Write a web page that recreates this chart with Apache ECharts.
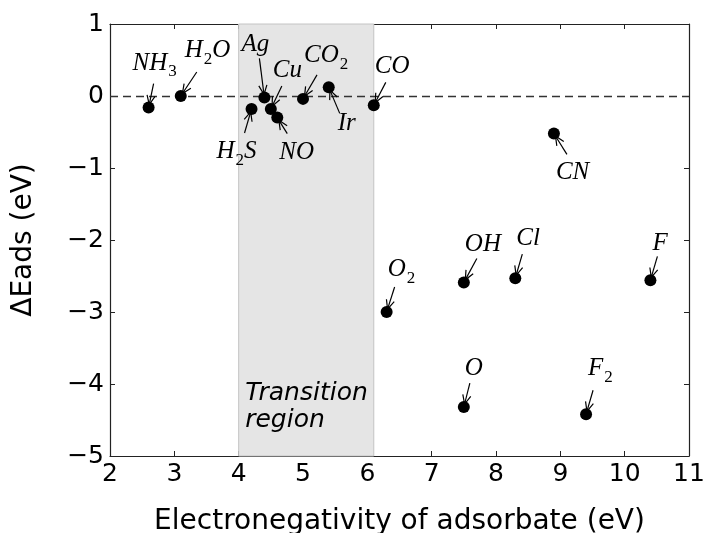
<!DOCTYPE html>
<html>
<head>
<meta charset="utf-8">
<script src="https://cdn.jsdelivr.net/npm/echarts@6/dist/echarts.min.js"></script>
<style>
  html, body { margin: 0; padding: 0; background: #fff; }
  #chart { width: 704px; height: 533px; }
</style>
</head>
<body>
<div id="chart"></div>
<script>
// adsorbate data
var species = ['NH3', 'H2O', 'Ag', 'Cu', 'CO2', 'Ir', 'H2S', 'NO', 'CO', 'CN', 'O2', 'OH', 'Cl', 'F', 'O', 'F2'];
var electroneg = [2.6, 3.1, 4.4, 4.5, 5.0, 5.4, 4.2, 4.6, 6.1, 8.9, 6.3, 7.5, 8.3, 10.4, 7.5, 9.4];
var dEads = [-0.16, 0, -0.02, -0.18, -0.04, 0.12, -0.18, -0.30, -0.13, -0.52, -3.0, -2.59, -2.53, -2.56, -4.32, -4.42];
var transitionRange = [4, 6.1];
var xRange = [2, 11];
var yRange = [-5, 1];

// annotation placement, pixels relative to the point: text baseline-left and arrow tail
var labelLayout = {
  NH3: { text: [-16, -38], tail: [5, -24] },
  H2O: { text: [4, -39], tail: [16, -24] },
  Ag:  { text: [-23, -47], tail: [-5, -39] },
  Cu:  { text: [2, -32], tail: [11, -23] },
  CO2: { text: [1, -37], tail: [14, -24] },
  Ir:  { text: [9, 43], tail: [11, 26] },
  H2S: { text: [-35, 49], tail: [-7, 24] },
  NO:  { text: [2, 41], tail: [10, 16] },
  CO:  { text: [1, -32], tail: [12, -23] },
  CN:  { text: [2, 45], tail: [13, 21] },
  O2:  { text: [1, -36], tail: [8, -25] },
  OH:  { text: [1, -32], tail: [13, -24] },
  Cl:  { text: [1, -33], tail: [7, -24] },
  F:   { text: [2, -30], tail: [7, -24] },
  O:   { text: [1, -32], tail: [6, -24] },
  F2:  { text: [2, -39], tail: [7, -24] }
};

var chart = echarts.init(document.getElementById('chart'));
var frameColor = '#222';
var tickFont = { fontFamily: 'DejaVu Sans', fontSize: 25, color: '#000' };

function minusFmt(v) { return String(v).replace('-', '\u2212'); }

function baseAxis(range) {
  return {
    type: 'value',
    min: range[0], max: range[1], interval: 1,
    axisLine: { show: true, onZero: false, lineStyle: { color: frameColor, width: 1.2 } },
    axisTick: { show: true, inside: true, length: 5, lineStyle: { color: frameColor } },
    splitLine: { show: false }
  };
}

var points = electroneg.map(function (x, i) { return [x, dEads[i]]; });

var xBottom = baseAxis(xRange);
xBottom.position = 'bottom';
xBottom.axisLabel = Object.assign({ margin: 6, formatter: minusFmt }, tickFont);
xBottom.name = 'Electronegativity of adsorbate (eV)';
xBottom.nameLocation = 'middle';
xBottom.nameGap = 52;
xBottom.nameTextStyle = { fontFamily: 'DejaVu Sans', fontSize: 28, color: '#000' };

var xTop = baseAxis(xRange);
xTop.position = 'top';
xTop.axisLabel = { show: false };

var yLeft = baseAxis(yRange);
yLeft.position = 'left';
yLeft.axisLabel = Object.assign({ margin: 6, formatter: minusFmt }, tickFont);
yLeft.name = 'ΔEads (eV)';
yLeft.nameLocation = 'middle';
yLeft.nameGap = 72;
yLeft.nameTextStyle = { fontFamily: 'DejaVu Sans', fontSize: 28, color: '#000' };

var yRight = baseAxis(yRange);
yRight.position = 'right';
yRight.axisLabel = { show: false };

var option = {
  animation: false,
  grid: { left: 110, right: 15, top: 24, bottom: 77, containLabel: false, outerBoundsMode: 'none' },
  xAxis: [xBottom, xTop],
  yAxis: [yLeft, yRight],
  series: [
    {
      // shaded transition region
      type: 'scatter',
      data: [],
      z: 1,
      markArea: {
        silent: true,
        itemStyle: { color: '#e5e5e5', borderColor: '#c4c4c4', borderWidth: 1 },
        label: {
          show: true,
          position: 'insideBottomLeft',
          distance: 5,
          offset: [2, -18],
          formatter: 'Transition\nregion',
          fontFamily: 'DejaVu Sans',
          fontStyle: 'italic',
          fontSize: 25,
          lineHeight: 27,
          color: '#000'
        },
        data: [[{ xAxis: transitionRange[0] }, { xAxis: transitionRange[1] }]]
      }
    },
    {
      type: 'scatter',
      data: points,
      symbol: 'circle',
      symbolSize: 12,
      z: 5,
      itemStyle: { color: '#000', opacity: 1 },
      markLine: {
        silent: true,
        symbol: 'none',
        label: { show: false },
        lineStyle: { color: '#333', width: 1.4, type: [8, 5] },
        data: [{ yAxis: 0 }]
      }
    }
  ]
};

chart.setOption(option);

// annotations: italic labels with subscripts plus "->" arrows
function richLabel(name) {
  return name.replace(/([A-Za-z]+)|(\d+)/g, function (m, letters, digits) {
    return letters ? '{m|' + letters + '}' : '{s|' + digits + '}';
  });
}

var elements = [];
species.forEach(function (name, i) {
  var p = chart.convertToPixel({ gridIndex: 0 }, points[i]);
  var lay = labelLayout[name];
  elements.push({
    type: 'text',
    x: p[0] + lay.text[0],
    y: p[1] + lay.text[1] + 12,
    z: 10,
    style: {
      text: richLabel(name),
      align: 'left',
      verticalAlign: 'bottom',
      rich: {
        m: { fontFamily: 'Liberation Serif', fontStyle: 'italic', fontSize: 25, color: '#000', verticalAlign: 'bottom', padding: [0, 0, 6, 0] },
        s: { fontFamily: 'Liberation Serif', fontSize: 17, color: '#000', verticalAlign: 'bottom', padding: [0, 0, 1, 1] }
      }
    }
  });
  var tail = [p[0] + lay.tail[0], p[1] + lay.tail[1]];
  var dx = tail[0] - p[0], dy = tail[1] - p[1];
  var len = Math.sqrt(dx * dx + dy * dy);
  var ux = dx / len, uy = dy / len;
  var tip = [p[0] + ux * 3, p[1] + uy * 3];
  var ang = 0.42, hl = 10;
  var w1 = [tip[0] + hl * (ux * Math.cos(ang) - uy * Math.sin(ang)), tip[1] + hl * (ux * Math.sin(ang) + uy * Math.cos(ang))];
  var w2 = [tip[0] + hl * (ux * Math.cos(-ang) - uy * Math.sin(-ang)), tip[1] + hl * (ux * Math.sin(-ang) + uy * Math.cos(-ang))];
  elements.push({
    type: 'polyline', z: 10,
    shape: { points: [tail, tip] },
    style: { stroke: '#000', lineWidth: 1.2, fill: null }
  });
  elements.push({
    type: 'polyline', z: 10,
    shape: { points: [w1, tip, w2] },
    style: { stroke: '#000', lineWidth: 1.2, fill: null }
  });
});

chart.setOption({ graphic: { elements: elements } });
</script>
</body>
</html>
